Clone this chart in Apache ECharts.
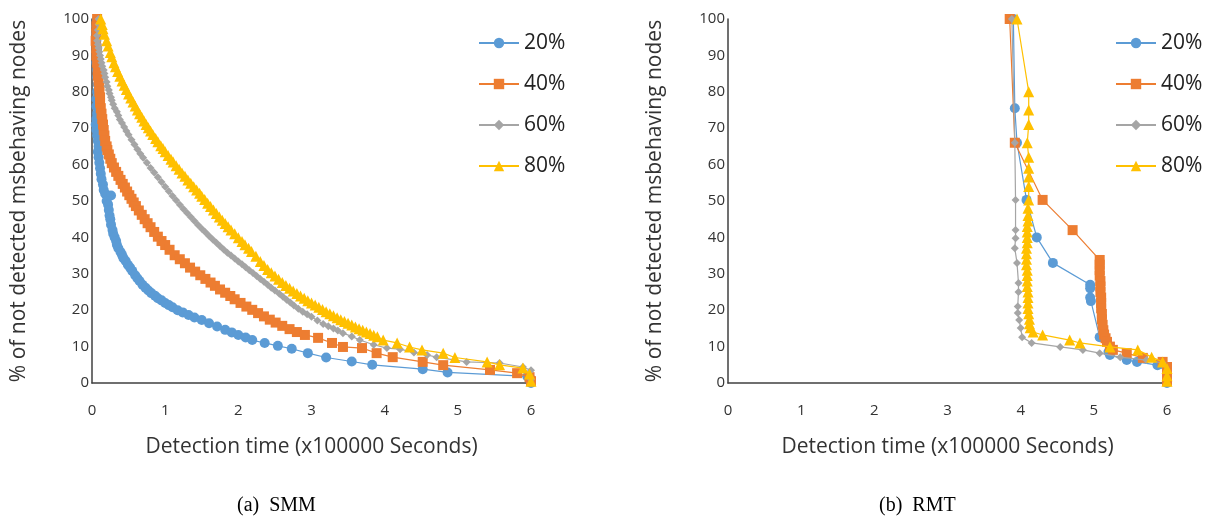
<!DOCTYPE html>
<html>
<head>
<meta charset="utf-8">
<script src="https://cdn.jsdelivr.net/npm/echarts@6/dist/echarts.min.js"></script>
<style>
html,body{margin:0;padding:0;background:#fff;}
#chart{width:1217px;height:527px;}
</style>
</head>
<body>
<div id="chart"></div>
<script>
// ---------- data ----------
const seriesNames = ['20%', '40%', '60%', '80%'];
const xTicks = [0, 1, 2, 3, 4, 5, 6];
const yTicks = [0, 10, 20, 30, 40, 50, 60, 70, 80, 90, 100];
const xAxisTitle = 'Detection time (x100000 Seconds)';
const yAxisTitle = '% of not detected msbehaving nodes';
const captionLeft = '(a)  SMM';
const captionRight = '(b)  RMT';

// SMM panel: [time (x100000 s), % not detected]
const smm20 = [[0.07,100],[0.06,98],[0.06,96],[0.06,94],[0.07,92],[0.07,90],[0.06,88],[0.07,86],[0.07,84],[0.08,82],[0.07,80],[0.06,78],[0.06,76],[0.07,74],[0.06,72.5],[0.05,71],[0.06,69.5],[0.07,68],[0.08,66.5],[0.09,65],[0.08,63.5],[0.09,62],[0.1,60.5],[0.11,59],[0.12,57.5],[0.13,56],[0.15,54.5],[0.16,53],[0.18,52],[0.26,51.5],[0.2,50],[0.22,49],[0.23,47.5],[0.24,46],[0.25,45],[0.26,43.5],[0.28,42],[0.29,41],[0.31,40],[0.33,39],[0.34,38],[0.36,37],[0.39,36],[0.41,35.2],[0.43,34.3],[0.46,33.5],[0.49,32.5],[0.52,31.7],[0.55,30.8],[0.59,29.6],[0.62,28.8],[0.65,28],[0.69,27],[0.73,26.2],[0.77,25.4],[0.81,24.7],[0.86,24],[0.9,23.3],[0.95,22.7],[1.0,22],[1.05,21.4],[1.1,20.8],[1.17,20],[1.24,19.4],[1.32,18.7],[1.4,18],[1.5,17.3],[1.6,16.4],[1.71,15.5],[1.82,14.6],[1.91,13.9],[2.0,13.2],[2.1,12.5],[2.19,11.8],[2.36,11],[2.54,10.2],[2.73,9.4],[2.95,8.2],[3.2,7],[3.55,5.9],[3.83,5],[4.52,3.8],[4.86,2.9],[5.95,1.8],[6.0,1],[6.0,0]];
const smm40 = [[0.07,100],[0.06,98],[0.06,96],[0.05,94],[0.06,92],[0.06,90],[0.07,88],[0.08,86],[0.08,84.5],[0.09,83],[0.1,81.5],[0.1,80],[0.11,78.5],[0.11,77],[0.12,75.5],[0.13,74],[0.14,72.5],[0.15,71],[0.16,69.5],[0.17,68],[0.18,66.5],[0.2,65],[0.21,64],[0.23,62.8],[0.25,61.6],[0.27,60.4],[0.3,59.2],[0.33,58],[0.36,56.9],[0.39,55.8],[0.42,54.7],[0.45,53.7],[0.48,52.6],[0.51,51.6],[0.54,50.6],[0.57,49.6],[0.6,48.6],[0.64,47.4],[0.68,46.2],[0.72,45],[0.76,43.9],[0.8,42.8],[0.85,41.5],[0.9,40.2],[0.95,39],[1.0,37.9],[1.06,36.6],[1.13,35.1],[1.2,34],[1.27,32.9],[1.34,31.7],[1.41,30.6],[1.48,29.6],[1.55,28.6],[1.62,27.6],[1.68,26.7],[1.75,25.7],[1.82,24.8],[1.89,23.9],[1.95,23],[2.03,22],[2.11,21],[2.19,20.1],[2.27,19.2],[2.35,18.3],[2.43,17.4],[2.51,16.6],[2.6,15.7],[2.7,14.8],[2.8,14],[2.91,13.2],[3.09,12.4],[3.28,11],[3.43,9.9],[3.69,9.6],[3.89,8.2],[4.11,7.1],[4.52,5.8],[4.8,4.9],[5.44,3.6],[5.81,2.7],[5.98,1.6],[6.0,0.5]];
const smm60 = [[0.09,100],[0.09,98.5],[0.08,97],[0.07,95.5],[0.07,94],[0.08,93],[0.09,92],[0.1,91],[0.11,90],[0.12,89],[0.13,88],[0.14,87],[0.16,86],[0.17,85],[0.18,84],[0.2,82.7],[0.21,81.5],[0.23,80.5],[0.24,79.5],[0.26,78.5],[0.27,77.7],[0.29,76.6],[0.31,75.5],[0.34,74.5],[0.36,73.5],[0.38,72.4],[0.41,71.4],[0.44,70.3],[0.47,69.2],[0.5,68.2],[0.54,66.8],[0.58,65.5],[0.62,64.2],[0.66,63],[0.7,61.9],[0.75,60.5],[0.8,59.1],[0.85,57.8],[0.9,56.5],[0.95,55.2],[1.0,53.9],[1.05,52.7],[1.1,51.4],[1.15,50.2],[1.2,49],[1.25,47.8],[1.3,46.7],[1.35,45.6],[1.4,44.5],[1.45,43.4],[1.5,42.4],[1.55,41.4],[1.6,40.4],[1.65,39.4],[1.7,38.5],[1.75,37.6],[1.8,36.7],[1.85,35.8],[1.9,35],[1.95,34.2],[2.0,33.4],[2.05,32.6],[2.1,31.8],[2.15,31],[2.2,30.2],[2.25,29.4],[2.3,28.6],[2.35,27.8],[2.4,27],[2.45,26.2],[2.5,25.4],[2.56,24.5],[2.61,23.7],[2.66,22.9],[2.71,22.1],[2.76,21.3],[2.82,20.4],[2.88,19.6],[2.94,18.9],[3.0,18.2],[3.08,17.2],[3.16,16.2],[3.23,15.6],[3.3,15],[3.36,14.4],[3.43,13.7],[3.55,12.8],[3.66,11.8],[3.85,10.5],[4.03,9.6],[4.21,9.3],[4.4,8.4],[4.58,7.7],[4.71,7.1],[5.12,5.8],[5.57,5.5],[5.89,4.4],[6.0,3.5],[6.0,1]];
const smm80 = [[0.12,100],[0.14,98.5],[0.15,97.3],[0.17,95.8],[0.2,94],[0.22,92.6],[0.25,90.8],[0.27,89.6],[0.3,88],[0.32,86.9],[0.35,85.6],[0.38,84.3],[0.41,83],[0.44,81.8],[0.47,80.6],[0.5,79.4],[0.53,78.3],[0.56,77.2],[0.59,76.1],[0.62,75],[0.65,74],[0.68,73],[0.71,72],[0.74,71],[0.77,70.1],[0.8,69.2],[0.83,68.3],[0.87,67.2],[0.9,66.3],[0.94,65.2],[0.97,64.4],[1.0,63.5],[1.04,62.5],[1.08,61.5],[1.11,60.7],[1.15,59.7],[1.19,58.7],[1.23,57.7],[1.27,56.8],[1.31,55.8],[1.35,54.9],[1.39,53.9],[1.43,53],[1.47,52.1],[1.5,51.3],[1.54,50.4],[1.58,49.4],[1.62,48.5],[1.66,47.5],[1.7,46.6],[1.74,45.6],[1.78,44.7],[1.82,43.8],[1.86,42.9],[1.9,42],[1.95,41],[2.0,39.9],[2.05,38.9],[2.09,38],[2.14,37],[2.18,36.1],[2.24,34.8],[2.3,33.4],[2.35,32.3],[2.4,31.2],[2.45,30.3],[2.5,29.4],[2.55,28.5],[2.6,27.6],[2.65,26.8],[2.7,26],[2.75,25.3],[2.8,24.6],[2.85,23.9],[2.9,23.3],[2.95,22.6],[3.0,22],[3.05,21.4],[3.1,20.8],[3.15,20.2],[3.2,19.6],[3.25,19],[3.3,18.5],[3.35,17.9],[3.4,17.4],[3.45,16.9],[3.5,16.4],[3.55,15.9],[3.6,15.4],[3.65,14.9],[3.7,14.5],[3.75,14],[3.8,13.6],[3.85,13.1],[3.9,12.7],[3.98,11.8],[4.17,11],[4.34,9.9],[4.51,9.1],[4.8,8.2],[4.96,7],[5.4,5.8],[5.57,5],[5.89,4.1],[5.98,2.5],[6.0,0.5]];

// RMT panel
const rmt20 = [[3.9,100],[3.92,75.5],[3.95,66],[4.08,50.3],[4.22,40],[4.44,33],[4.95,27],[4.95,26],[4.95,23.5],[4.96,22.5],[5.08,12.6],[5.2,8.5],[5.22,7.7],[5.45,6.3],[5.59,5.8],[5.87,4.9],[6.0,3],[6.0,0]];
const rmt40 = [[3.85,100],[3.92,66],[4.3,50.3],[4.71,42],[5.08,33.8],[5.08,32.5],[5.08,31],[5.08,29.5],[5.09,28],[5.09,26.5],[5.09,25],[5.1,23.5],[5.1,22],[5.1,20.5],[5.11,19],[5.11,17.5],[5.12,16],[5.13,14.5],[5.14,13.3],[5.16,12.3],[5.18,11.3],[5.22,10],[5.26,9.1],[5.45,8.2],[5.67,6.9],[5.94,5.8],[6.0,4.4],[6.0,2.5],[6.0,0.5]];
const rmt60 = [[3.88,100],[3.92,66],[3.93,50.3],[3.93,42],[3.93,39.8],[3.92,37],[3.95,33],[3.97,27.5],[3.97,25],[3.96,21],[3.96,19.2],[3.98,17.3],[4.0,15.1],[4.02,12.6],[4.15,11],[4.54,9.9],[4.85,9.1],[5.08,8.2],[5.36,7.1],[5.72,6.3],[5.94,5.5],[6.0,3],[6.0,1]];
const rmt80 = [[3.95,100],[4.11,80],[4.11,75],[4.11,71],[4.09,66],[4.11,62],[4.11,59],[4.11,56.6],[4.11,54],[4.11,50.3],[4.1,48],[4.1,46],[4.1,44.5],[4.09,43],[4.09,41.5],[4.09,40],[4.09,38.5],[4.08,37],[4.08,35.5],[4.08,34],[4.08,32.5],[4.09,31],[4.09,29.5],[4.09,28],[4.09,26.5],[4.1,25],[4.1,23.5],[4.1,22],[4.1,20.5],[4.11,19],[4.12,17.5],[4.12,16.3],[4.13,15.2],[4.17,14],[4.3,13.2],[4.67,11.8],[4.81,11],[5.22,9.9],[5.6,9.1],[5.79,7.1],[5.94,5.8],[6.0,4],[6.0,2],[6.0,0.5]];

// ---------- styles ----------
const colors = ['#5B9BD5', '#ED7D31', '#A5A5A5', '#FFC000'];
const symbols = ['circle', 'rect', 'diamond', 'triangle'];
const symbolSizes = [10, 10, 8, 11];
const FONT = 'Open Sans';
const TEXT = '#333333';

function makeX(gi) {
  return {
    type: 'value', gridIndex: gi, min: xTicks[0], max: xTicks[xTicks.length - 1], interval: 1,
    name: xAxisTitle, nameLocation: 'middle', nameGap: 54,
    nameTextStyle: { fontFamily: FONT, fontSize: 21, color: TEXT },
    axisLine: { show: true, onZero: false, lineStyle: { color: '#404040', width: 1.5 } },
    axisTick: { show: false }, splitLine: { show: false },
    axisLabel: { margin: 20, fontFamily: FONT, fontSize: 15, color: TEXT }
  };
}
function makeY(gi) {
  return {
    type: 'value', gridIndex: gi, min: yTicks[0], max: yTicks[yTicks.length - 1], interval: 10,
    name: yAxisTitle, nameLocation: 'middle', nameGap: 62,
    nameTextStyle: { fontFamily: FONT, fontSize: 21, color: TEXT },
    axisLine: { show: true, lineStyle: { color: '#404040', width: 1.5 } },
    axisTick: { show: false }, splitLine: { show: false },
    axisLabel: { margin: 3, fontFamily: FONT, fontSize: 15, color: TEXT }
  };
}
function makeSeries(name, i, data, gi) {
  return {
    name: name, type: 'line', xAxisIndex: gi, yAxisIndex: gi, data: data,
    symbol: symbols[i], symbolSize: symbolSizes[i], showAllSymbol: true, clip: false,
    lineStyle: { color: colors[i], width: 1.2 },
    itemStyle: { color: colors[i] },
    animation: false, z: 2 + i
  };
}
function makeLegend(left) {
  return {
    orient: 'vertical', left: left, top: 27, itemWidth: 40, itemHeight: 13, itemGap: 19,
    data: seriesNames,
    textStyle: { fontFamily: FONT, fontSize: 21, color: '#222', lineHeight: 22 }
  };
}

const smmSets = [smm20, smm40, smm60, smm80];
const rmtSets = [rmt20, rmt40, rmt60, rmt80];
const series = [];
seriesNames.forEach((n, i) => series.push(makeSeries(n, i, smmSets[i], 0)));
seriesNames.forEach((n, i) => series.push(makeSeries(n, i, rmtSets[i], 1)));

const chart = echarts.init(document.getElementById('chart'), null, { renderer: 'canvas' });
chart.setOption({
  backgroundColor: '#ffffff',
  animation: false,
  grid: [
    { left: 92, top: 19, width: 439, height: 364 },
    { left: 728, top: 19, width: 439, height: 364 }
  ],
  xAxis: [makeX(0), makeX(1)],
  yAxis: [makeY(0), makeY(1)],
  legend: [makeLegend(473), makeLegend(1110)],
  series: series,
  graphic: [
    { type: 'text', left: 237, top: 496, style: { text: captionLeft, fontFamily: 'Liberation Serif', fontSize: 20, fill: '#000' } },
    { type: 'text', left: 879, top: 496, style: { text: captionRight, fontFamily: 'Liberation Serif', fontSize: 20, fill: '#000' } }
  ]
});
</script>
</body>
</html>
